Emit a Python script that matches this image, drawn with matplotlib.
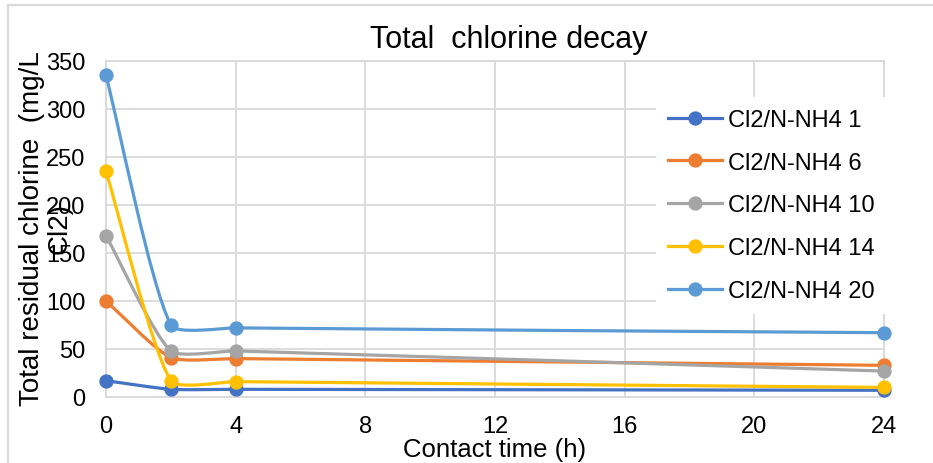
import numpy as np
import matplotlib
matplotlib.use("Agg")
import matplotlib.pyplot as plt
from matplotlib.path import Path
from matplotlib.patches import PathPatch
from matplotlib.lines import Line2D

plt.rcParams['font.family'] = ['Liberation Sans', 'DejaVu Sans']

# Contact time (h) and total residual chlorine (mg/L Cl2) per Cl2/N-NH4 ratio
contact_time = [0, 2, 4, 24]
ratio_1 = [17, 8, 8, 7]
ratio_6 = [100, 41, 40, 33]
ratio_10 = [168, 48, 48, 27]
ratio_14 = [235, 17, 16, 10]
ratio_20 = [335, 75, 72, 67]

series_labels = ["Cl2/N-NH4 1", "Cl2/N-NH4 6", "Cl2/N-NH4 10",
                 "Cl2/N-NH4 14", "Cl2/N-NH4 20"]
series_values = [ratio_1, ratio_6, ratio_10, ratio_14, ratio_20]
series_colors = ["#4472C4", "#ED7D31", "#A5A5A5", "#FFC000", "#5B9BD5"]

x_ticks = [0, 4, 8, 12, 16, 20, 24]
y_ticks = [0, 50, 100, 150, 200, 250, 300, 350]

W, H = 933, 464
fig = plt.figure(figsize=(W / 100, H / 100), dpi=100)
L, R, T, B = 106, 884, 62, 398
ax = fig.add_axes([L / W, 1 - B / H, (R - L) / W, (B - T) / H])
ax.set_xlim(0, 24)
ax.set_ylim(0, 350)


def smooth_path(xs, ys, sx, sy, tension=0.6):
    """Cubic Bezier path through the points, tangents scaled by chord length
    measured in screen units (sx, sy = pixels per data unit)."""
    P = np.column_stack([np.asarray(xs, float) * sx, np.asarray(ys, float) * sy])
    n = len(P)
    d = np.hypot(*np.diff(P, axis=0).T)
    tang = np.zeros_like(P)
    for i in range(n):
        if i == 0:
            tang[i] = (P[1] - P[0]) / d[0]
        elif i == n - 1:
            tang[i] = (P[-1] - P[-2]) / d[-1]
        else:
            tang[i] = (P[i + 1] - P[i - 1]) / (d[i - 1] + d[i])
    verts = [P[0]]
    codes = [Path.MOVETO]
    for i in range(n - 1):
        c1 = P[i] + tang[i] * d[i] / 3 * tension
        c2 = P[i + 1] - tang[i + 1] * d[i] / 3 * tension
        verts += [c1, c2, P[i + 1]]
        codes += [Path.CURVE4] * 3
    verts = np.array(verts)
    verts[:, 0] /= sx
    verts[:, 1] /= sy
    return Path(verts, codes)


sx = (R - L) / 24
sy = (B - T) / 350
grid_c = "#D9D9D9"
lw = 2.3
ms = 9.3

handles = []
for lab, vals, col in zip(series_labels, series_values, series_colors):
    path = smooth_path(contact_time, vals, sx, sy)
    ax.add_patch(PathPatch(path, fill=False, edgecolor=col, lw=lw,
                           capstyle='round', joinstyle='round', clip_on=False,
                           zorder=3))
    ax.plot(contact_time, vals, ls='none', marker='o', ms=ms, color=col,
            clip_on=False, zorder=4)
    handles.append(Line2D([], [], color=col, lw=lw, marker='o', ms=ms))

ax.set_xticks(x_ticks)
ax.set_yticks(y_ticks)
ax.grid(True, color=grid_c, lw=1.3)
ax.set_axisbelow(True)
for s in ax.spines.values():
    s.set_color(grid_c)
    s.set_linewidth(1.3)
ax.tick_params(length=0, labelsize=17, colors="#000000")
ax.tick_params(axis='y', pad=15)
ax.tick_params(axis='x', pad=13)

ax.set_title("Total  chlorine decay", fontsize=22, pad=0,
             x=(509 - L) / (R - L), y=(B - 40) / (B - T), va='center')

ax.set_xlabel("Contact time (h)", fontsize=18.5, va='center')
ax.xaxis.set_label_coords(0.5, (B - 450) / (B - T))
ax.set_ylabel("Total residual chlorine  (mg/L\nCl2)", fontsize=20,
              va='center', multialignment='center', linespacing=1.05)
ax.yaxis.set_label_coords((46 - L) / (R - L), (B - 229) / (B - T))

leg = ax.legend(handles, series_labels, loc='upper left',
                bbox_to_anchor=(656 / W, 1 - 98 / H),
                bbox_transform=fig.transFigure, borderaxespad=0,
                fontsize=17, frameon=True, fancybox=False, framealpha=1,
                edgecolor='none', facecolor='white', handlelength=2.3,
                handletextpad=0.25, labelspacing=0.88, borderpad=0.5)
leg.set_zorder(5)

# chart area border (left and top edges)
fig.add_artist(Line2D([8 / W, 8 / W, 1], [0, 1 - 6 / H, 1 - 6 / H],
                      transform=fig.transFigure, color=grid_c, lw=1.6))

fig.savefig("out.png", dpi=100)
